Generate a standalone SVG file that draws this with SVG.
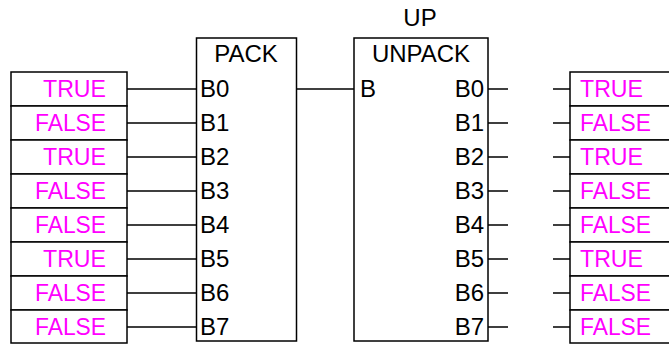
<svg xmlns="http://www.w3.org/2000/svg" width="669" height="345" viewBox="0 0 669 345">
<style>
.box{fill:#fff;stroke:#000;stroke-width:1.5}
.ln{stroke:#000;stroke-width:1.5;fill:none}
.t{font-family:"Liberation Sans",Arial,sans-serif;font-size:24px;fill:#000}
.v{font-family:"Liberation Sans",Arial,sans-serif;font-size:24px;fill:#ff00ff}
.e{text-anchor:end}
.m{text-anchor:middle}
</style>
<rect width="669" height="345" fill="#fff"/>
<g id="connectors">
<path class="ln" d="M127 89H196M127 123H196M127 157H196M127 191H196M127 225H196M127 259H196M127 293H196M127 327H196"/>
<path class="ln" d="M296 89H354"/>
<path class="ln" d="M488 89H508M488 123H508M488 157H508M488 191H508M488 225H508M488 259H508M488 293H508M488 327H508"/>
<path class="ln" d="M553 89H570M553 123H570M553 157H570M553 191H570M553 225H570M553 259H570M553 293H570M553 327H570"/>
</g>
<g id="inputs">
<rect class="box" x="11" y="72" width="116" height="34"/>
<rect class="box" x="11" y="106" width="116" height="34"/>
<rect class="box" x="11" y="140" width="116" height="34"/>
<rect class="box" x="11" y="174" width="116" height="34"/>
<rect class="box" x="11" y="208" width="116" height="34"/>
<rect class="box" x="11" y="242" width="116" height="34"/>
<rect class="box" x="11" y="276" width="116" height="34"/>
<rect class="box" x="11" y="310" width="116" height="33"/>
<text class="v e" x="106" y="97" textLength="63" lengthAdjust="spacingAndGlyphs">TRUE</text>
<text class="v e" x="106" y="131" textLength="71" lengthAdjust="spacingAndGlyphs">FALSE</text>
<text class="v e" x="106" y="165" textLength="63" lengthAdjust="spacingAndGlyphs">TRUE</text>
<text class="v e" x="106" y="199" textLength="71" lengthAdjust="spacingAndGlyphs">FALSE</text>
<text class="v e" x="106" y="233" textLength="71" lengthAdjust="spacingAndGlyphs">FALSE</text>
<text class="v e" x="106" y="267" textLength="63" lengthAdjust="spacingAndGlyphs">TRUE</text>
<text class="v e" x="106" y="301" textLength="71" lengthAdjust="spacingAndGlyphs">FALSE</text>
<text class="v e" x="106" y="335" textLength="71" lengthAdjust="spacingAndGlyphs">FALSE</text>
</g>
<g id="pack">
<rect class="box" x="196.5" y="38" width="100" height="303"/>
<text class="t m" x="246" y="62">PACK</text>
<text class="t" x="200" y="97">B0</text>
<text class="t" x="200" y="131">B1</text>
<text class="t" x="200" y="165">B2</text>
<text class="t" x="200" y="199">B3</text>
<text class="t" x="200" y="233">B4</text>
<text class="t" x="200" y="267">B5</text>
<text class="t" x="200" y="301">B6</text>
<text class="t" x="200" y="335">B7</text>
</g>
<g id="unpack">
<text class="t m" x="420" y="26">UP</text>
<rect class="box" x="354" y="38" width="134" height="303"/>
<text class="t m" x="421" y="62">UNPACK</text>
<text class="t" x="360" y="97">B</text>
<text class="t e" x="484" y="97">B0</text>
<text class="t e" x="484" y="131">B1</text>
<text class="t e" x="484" y="165">B2</text>
<text class="t e" x="484" y="199">B3</text>
<text class="t e" x="484" y="233">B4</text>
<text class="t e" x="484" y="267">B5</text>
<text class="t e" x="484" y="301">B6</text>
<text class="t e" x="484" y="335">B7</text>
</g>
<g id="outputs">
<rect class="box" x="570" y="72" width="110" height="34"/>
<rect class="box" x="570" y="106" width="110" height="34"/>
<rect class="box" x="570" y="140" width="110" height="34"/>
<rect class="box" x="570" y="174" width="110" height="34"/>
<rect class="box" x="570" y="208" width="110" height="34"/>
<rect class="box" x="570" y="242" width="110" height="34"/>
<rect class="box" x="570" y="276" width="110" height="34"/>
<rect class="box" x="570" y="310" width="110" height="33"/>
<text class="v" x="580" y="97" textLength="63" lengthAdjust="spacingAndGlyphs">TRUE</text>
<text class="v" x="580" y="131" textLength="71" lengthAdjust="spacingAndGlyphs">FALSE</text>
<text class="v" x="580" y="165" textLength="63" lengthAdjust="spacingAndGlyphs">TRUE</text>
<text class="v" x="580" y="199" textLength="71" lengthAdjust="spacingAndGlyphs">FALSE</text>
<text class="v" x="580" y="233" textLength="71" lengthAdjust="spacingAndGlyphs">FALSE</text>
<text class="v" x="580" y="267" textLength="63" lengthAdjust="spacingAndGlyphs">TRUE</text>
<text class="v" x="580" y="301" textLength="71" lengthAdjust="spacingAndGlyphs">FALSE</text>
<text class="v" x="580" y="335" textLength="71" lengthAdjust="spacingAndGlyphs">FALSE</text>
</g>
</svg>
